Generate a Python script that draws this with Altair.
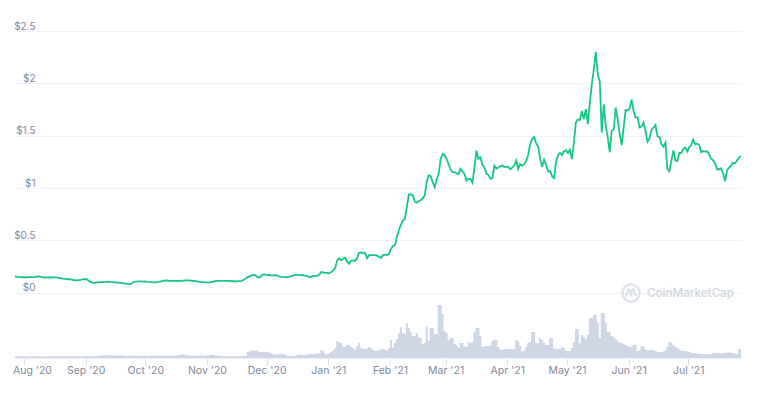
import altair as alt
import pandas as pd
from datetime import datetime, timedelta

START = datetime(2020, 7, 27, 12)

price = [
.157,.152,.150,.151,.149,.150,.148,.150,.150,.151,
.152,.156,.156,.153,.151,.146,.147,.149,.147,.147,
.148,.147,.143,.139,.135,.133,.131,.130,.128,.125,
.120,.119,.122,.124,.128,.130,.131,.115,.105,.097,
.096,.099,.100,.102,.103,.104,.105,.106,.104,.103,
.101,.100,.098,.096,.093,.090,.088,.084,.083,.097,
.104,.107,.109,.109,.108,.110,.107,.104,.103,.102,
.100,.100,.104,.108,.112,.116,.118,.116,.115,.114,
.116,.113,.114,.116,.113,.118,.120,.120,.118,.115,
.113,.111,.108,.105,.103,.102,.100,.100,.100,.104,
.106,.117,.115,.114,.115,.114,.114,.115,.114,.111,
.111,.109,.111,.112,.115,.125,.137,.150,.160,.167,
.173,.165,.150,.147,.165,.176,.175,.170,.172,.165,
.168,.170,.165,.155,.152,.150,.151,.150,.155,.162,
.167,.171,.171,.170,.170,.168,.165,.160,.148,.155,
.163,.163,.163,.175,.199,.195,.192,.190,.186,.200,
.215,.238,.310,.330,.310,.325,.335,.300,.278,.305,
.310,.305,.330,.385,.385,.380,.383,.330,.360,.360,
.360,.360,.355,.345,.335,.360,.365,.360,.370,.420,
.447,.455,.530,.600,.650,.690,.705,.820,.940,.940,
.930,.870,.860,.875,.883,.905,.930,1.057,1.123,1.114,
1.057,1.010,1.080,1.136,1.278,1.326,1.316,1.278,1.228,1.177,
1.152,1.152,1.142,1.133,1.184,1.158,1.136,1.073,1.089,1.089,
1.051,1.199,1.358,1.278,1.294,1.222,1.199,1.136,1.127,1.089,
1.095,1.215,1.187,1.196,1.209,1.218,1.203,1.203,1.203,1.180,
1.196,1.215,1.263,1.184,1.228,1.215,1.228,1.263,1.316,1.421,
1.468,1.487,1.430,1.396,1.285,1.203,1.272,1.222,1.161,1.161,
1.114,1.095,1.247,1.313,1.339,1.316,1.354,1.361,1.335,1.367,
1.278,1.437,1.627,1.655,1.649,1.737,1.658,1.753,1.611,1.816,
1.990,2.133,2.300,2.085,2.019,1.532,1.801,1.595,1.484,1.342,
1.547,1.557,1.769,1.658,1.516,1.411,1.579,1.747,1.741,1.759,
1.845,1.737,1.674,1.677,1.579,1.589,1.627,1.547,1.443,1.475,
1.557,1.579,1.604,1.494,1.487,1.421,1.396,1.434,1.184,1.161,
1.263,1.361,1.266,1.259,1.335,1.335,1.373,1.389,1.348,1.392,
1.411,1.462,1.418,1.424,1.411,1.342,1.354,1.348,1.351,1.323,
1.278,1.266,1.234,1.180,1.180,1.190,1.139,1.066,1.171,1.193,
1.215,1.241,1.237,1.263,1.291,1.304,
]

volume = [
15,15,18,18,15,14,15,16,15,14,
15,18,18,16,15,14,15,18,20,18,
16,15,15,16,18,18,17,16,15,16,
18,20,18,16,17,18,20,20,18,16,
18,20,20,22,24,25,26,28,28,26,
25,24,25,26,24,22,20,22,24,26,
25,22,20,20,22,24,22,20,22,25,
26,24,22,22,24,25,24,22,22,24,
25,26,28,32,35,34,30,26,24,22,
22,24,25,26,24,22,24,26,30,32,
30,25,22,22,20,18,18,16,16,15,
15,16,18,18,18,20,20,60,65,73,
75,73,72,60,60,60,62,60,55,45,
38,36,35,38,43,40,30,22,20,20,
20,22,30,33,33,30,28,35,37,37,
38,42,40,50,83,70,40,38,45,60,
75,100,170,155,150,110,115,130,130,110,
100,80,120,150,100,90,90,95,110,100,
80,73,70,75,85,90,85,75,100,180,
105,150,190,250,305,250,240,350,300,260,
220,220,250,210,200,140,150,310,170,300,
300,240,240,530,530,440,270,250,180,200,
200,140,130,100,150,150,115,110,160,150,
160,260,300,300,220,110,115,120,120,120,
170,180,180,110,85,80,90,90,88,90,
85,90,180,170,120,65,70,110,150,160,
260,260,150,150,200,180,150,130,130,200,
200,95,90,90,90,110,100,70,70,70,
100,160,290,290,150,230,210,190,230,400,
400,430,430,350,200,450,450,350,260,260,
220,210,190,170,150,150,140,130,120,115,
110,130,130,70,75,120,115,85,75,80,
80,75,70,60,60,60,65,75,110,160,
155,130,110,100,85,75,70,70,65,62,
55,50,47,45,43,40,37,37,36,37,
40,47,50,50,50,47,47,50,55,55,
50,47,40,38,90,90,
]

n = min(len(price), len(volume))
dates = [(START + timedelta(days=i)).strftime("%Y-%m-%dT%H:%M:%SZ") for i in range(n)]
df = pd.DataFrame({"date": dates, "price": price[:n], "volume": volume[:n]})

price_ticks = [0, 0.5, 1, 1.5, 2, 2.5]
month_ticks = [
    alt.DateTime(year=2020, month=m, date=1, utc=True) for m in [8, 9, 10, 11, 12]
] + [alt.DateTime(year=2021, month=m, date=1, utc=True) for m in [1, 2, 3, 4, 5, 6, 7]]

FONT = "Inter"
GREY = "#808a9d"
xscale = alt.Scale(type="utc", domain=["2020-07-27T12:00:00Z", "2021-07-27T12:00:00Z"])
xenc = alt.X("date:T", scale=xscale, title=None, axis=alt.Axis(
    values=month_ticks, labelExpr="utcFormat(datum.value, \"%b '%y\")",
    labelFont=FONT, labelFontSize=10.5, labelColor=GREY, labelPadding=0,
    labelOffset=alt.expr("datum.index == 0 ? 8 : 0"),
    tickColor="#d9dee8", tickSize=7, tickWidth=1,
    domainColor="#eff2f5", grid=False, labelOverlap=False))

vol = alt.Chart(df).mark_area(interpolate="step", color="#cfd6e5").encode(
    x=xenc,
    y=alt.Y("volume:Q", scale=alt.Scale(domain=[0, 3270]), axis=None))

line = alt.Chart(df).mark_line(color="#16c784", strokeWidth=1.8, clip=True).encode(
    x=xenc,
    y=alt.Y("price:Q", title=None,
            scale=alt.Scale(domain=[-0.622, 2.5], nice=False, zero=False),
            axis=alt.Axis(values=price_ticks,
                          labelExpr="'$' + datum.value",
                          labelFont=FONT, labelFontSize=10, labelColor=GREY,
                          labelAlign="right", labelPadding=-20, labelOffset=-5,
                          ticks=False, domain=False, grid=True,
                          gridColor="#f1f3f6", gridWidth=1)))

logo_df = pd.DataFrame({"t": ["CoinMarketCap"]})
ring = alt.Chart(logo_df).mark_point(
    shape="circle", size=300, stroke="#d0d7e4", strokeWidth=2.4, fill=None, filled=False
).encode(x=alt.value(616), y=alt.value(262))
wiggle = alt.Chart(logo_df).mark_point(
    shape="M-0.9,0.55 C-0.75,0.55 -0.7,0.4 -0.6,0 C-0.5,-0.55 -0.4,-0.6 -0.3,-0.6 C-0.1,-0.6 -0.1,0.4 0,0.4 C0.1,0.4 0.1,-0.6 0.35,-0.6 C0.55,-0.6 0.45,0.45 0.9,0.3",
    size=170, stroke="#d0d7e4", strokeWidth=2.2, fill=None, filled=False
).encode(x=alt.value(616), y=alt.value(262))
logo_text = alt.Chart(logo_df).mark_text(
    font=FONT, fontSize=11.5, fontWeight=600, color="#d3d9e5", align="left", baseline="middle"
).encode(x=alt.value(632), y=alt.value(263), text="t:N")

chart = (alt.layer(vol, ring, wiggle, logo_text, line)
         .resolve_scale(y="independent")
         .properties(width=726, height=327,
                     padding={"left": 7, "top": 23, "right": 10, "bottom": 25},
                     autosize=alt.AutoSizeParams(type="none"))
         .configure_view(stroke=None))

chart.save("out.html", embed_options={"renderer": "svg", "actions": False})
